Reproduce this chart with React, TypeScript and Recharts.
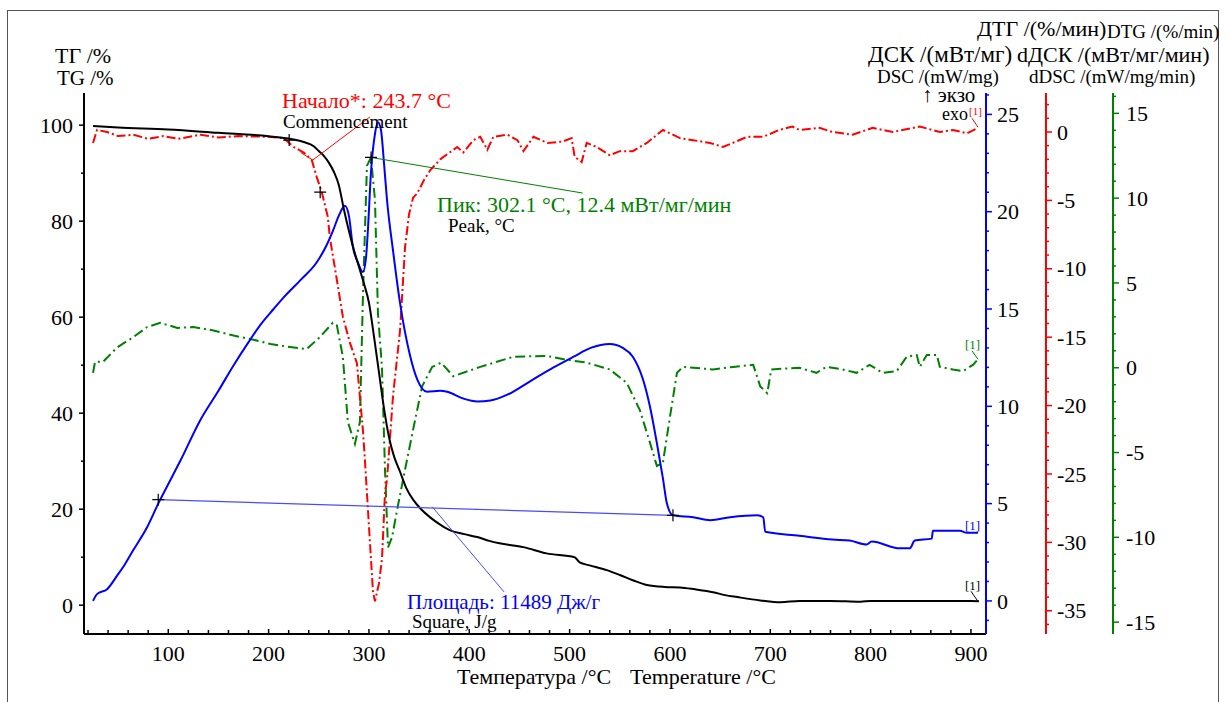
import { ComposedChart, Line, XAxis, YAxis, ReferenceLine, ReferenceDot } from "recharts";

const SERIF = "'Liberation Serif', 'Times New Roman', Times, serif";

// TG, %
const tgTemp = [25, 50, 100, 150, 200, 220, 235, 245, 250, 255, 260, 265, 270, 275, 280, 285, 290, 295, 300, 305, 310, 315, 320, 325, 331, 337, 344, 352, 361, 371, 381, 395, 408, 420, 430, 454, 477, 505, 510, 520, 537, 550, 563, 577, 595, 610, 625, 643, 655, 667, 690, 710, 729, 760, 790, 800, 850, 900, 908];
const tgValue = [99.8, 99.5, 99.1, 98.4, 97.7, 97.2, 96.5, 95.6, 94.6, 93.6, 92.2, 90.3, 87.5, 82.5, 78, 74, 70.5, 67, 63, 56, 48.5, 41, 35, 31, 27.8, 24.5, 22, 20, 18.3, 16.8, 15.6, 14.8, 14.2, 13.4, 12.9, 12.1, 10.8, 10.0, 8.9, 8.3, 7.3, 6.3, 5.2, 4.2, 3.8, 3.7, 3.3, 2.7, 2.1, 1.7, 1.0, 0.6, 0.9, 0.9, 0.7, 0.9, 0.9, 0.9, 0.8];

// DSC, mW/mg
const dscTemp = [25, 29, 39, 49, 57, 65, 79, 90, 102, 112, 132, 150, 165, 180, 192, 205, 215, 232, 248, 258, 264, 270, 276, 280, 284, 289, 294, 297, 299, 302, 306, 309, 312, 315, 318, 324, 331, 341, 348, 358, 371, 378, 394, 408, 421, 438, 461, 484, 504, 521, 540, 553, 563, 573, 580, 587, 593, 597, 603, 623, 640, 660, 687, 693, 695, 729, 762, 779, 796, 801, 829, 839, 844, 861, 862, 889, 896, 907];
const dscValue = [0, 0.35, 0.6, 1.3, 1.9, 2.6, 3.8, 5.0, 6.2, 7.2, 9.3, 10.8, 12.1, 13.3, 14.2, 15.0, 15.6, 16.5, 17.4, 18.3, 19.0, 19.8, 20.3, 19.8, 18.2, 17.4, 16.9, 17.6, 19.1, 22.0, 24.0, 24.6, 24.2, 22.5, 20.6, 18.0, 15.3, 12.6, 11.4, 10.75, 10.8, 10.75, 10.4, 10.25, 10.3, 10.6, 11.3, 12.0, 12.55, 13.0, 13.2, 13.0, 12.55, 11.4, 10.0, 8.1, 6.3, 5.0, 4.4, 4.3, 4.15, 4.3, 4.4, 4.3, 3.55, 3.35, 3.15, 3.1, 2.9, 3.05, 2.7, 2.7, 3.1, 3.2, 3.6, 3.6, 3.5, 3.5];

// DTG, %/min
const dtgTemp = [25, 29, 39, 50, 65, 80, 95, 110, 132, 150, 170, 199, 215, 225, 235, 243, 248, 253, 259, 261, 268, 274, 281, 288, 294, 296, 299, 304, 306, 310, 313, 316, 318, 324, 331, 336, 340, 344, 348, 355, 361, 371, 388, 394, 404, 411, 418, 424, 438, 448, 454, 464, 478, 493, 502, 505, 512, 517, 527, 540, 550, 563, 577, 593, 610, 623, 640, 653, 677, 693, 709, 722, 729, 749, 762, 782, 802, 822, 849, 869, 882, 896, 907];
const dtgValue = [-0.8, 0.15, 0, -0.3, -0.2, -0.5, -0.3, -0.5, -0.2, -0.4, -0.3, -0.35, -0.45, -1.1, -1.5, -2.05, -3.3, -4.4, -6.2, -7.7, -10.8, -13.5, -15.4, -16.9, -21.8, -24, -27.6, -33.6, -34.3, -33, -31.2, -26.4, -25.4, -19.3, -14.5, -8.4, -6, -4.8, -4.5, -3.5, -2.8, -2.0, -1.1, -1.5, -0.6, -0.35, -1.3, -0.35, -0.2, -0.6, -1.4, -0.35, -0.8, -0.7, -0.45, -1.8, -2.2, -0.8, -1.1, -1.7, -1.4, -1.4, -0.8, 0.15, -0.45, -0.6, -0.8, -1.1, -0.35, -0.35, 0.15, 0.4, 0.15, 0.3, 0, -0.2, 0.3, 0, 0.4, 0, 0.15, -0.1, 0.3];

// dDSC, mW/mg/min
const ddscTemp = [25, 27, 35, 49, 65, 79, 92, 109, 125, 145, 165, 185, 202, 218, 238, 251, 264, 268, 274, 279, 286, 291, 294, 298, 302, 306, 309, 313, 316, 319, 323, 328, 336, 344, 353, 363, 372, 384, 411, 444, 477, 497, 517, 540, 557, 570, 580, 587, 593, 600, 607, 613, 643, 663, 683, 690, 697, 701, 729, 746, 756, 772, 786, 799, 812, 826, 836, 846, 849, 856, 866, 869, 882, 892, 902, 907];
const ddscValue = [-0.3, 0.35, 0.35, 1.2, 1.8, 2.4, 2.65, 2.35, 2.4, 2.2, 1.9, 1.65, 1.4, 1.25, 1.1, 1.8, 2.65, 2.5, 0.65, -3.2, -4.5, -3.2, 4.2, 11.9, 12.4, 9.9, 3.2, 0, -6, -10.6, -10.0, -8.4, -6.0, -3.65, -1.1, 0.05, 0.3, -0.5, 0.05, 0.65, 0.7, 0.47, 0.3, -0.1, -0.9, -2.5, -4.4, -5.8, -5.6, -2.9, -0.3, 0.05, -0.1, 0.05, 0.17, -1.1, -1.5, -0.1, 0, -0.3, 0.05, -0.1, -0.3, 0.17, -0.3, -0.2, 0.65, 0.75, 0.05, 0.75, 0.75, 0.05, -0.1, -0.2, 0.17, 0.5];

// tick marks (labelled ones are listed here)
const tempMajor = [100, 200, 300, 400, 500, 600, 700, 800, 900];
const tgMajor = [0, 20, 40, 60, 80, 100];
const dscMajor = [0, 5, 10, 15, 20, 25];
const dtgMajor = [-35, -30, -25, -20, -15, -10, -5, 0];
const ddscMajor = [-15, -10, -5, 0, 5, 10, 15];

const steps = (from: number, to: number, step: number) => {
  const out: number[] = [];
  for (let v = from; v <= to + 1e-9; v += step) out.push(Math.round(v * 100) / 100);
  return out;
};

const zip = (t: number[], v: number[]) => t.map((x, i) => ({ t: x, v: v[i] }));
const tgData = zip(tgTemp, tgValue);
const dscData = zip(dscTemp, dscValue);
const dtgData = zip(dtgTemp, dtgValue);
const ddscData = zip(ddscTemp, ddscValue);

const RED = "#ff0000";
const BLUE = "#0000ff";
const GREEN = "#008000";

// right axes are laid out by id order, so the ids carry a prefix
const DSC_ID = "r1_dsc";
const DTG_ID = "r2_dtg";
const DDSC_ID = "r3_ddsc";

function makeLeftTick(majors: number[]) {
  return (props: any) => {
    const { x, y, payload } = props;
    const major = majors.includes(payload.value);
    return (
      <g>
        <line x1={x} x2={x - (major ? 5 : 3)} y1={y} y2={y} stroke="#000" strokeWidth={1.5} />
        {major && (
          <text x={x - 11} y={y} dy="0.35em" textAnchor="end" fontSize={22} fontFamily={SERIF} fill="#000">
            {payload.value}
          </text>
        )}
      </g>
    );
  };
}

function makeRightTick(color: string, majors: number[], gap: number) {
  return (props: any) => {
    const { x, y, payload } = props;
    const major = majors.includes(payload.value);
    return (
      <g>
        <line x1={x} x2={x + (major ? 6 : 3)} y1={y} y2={y} stroke={color} strokeWidth={1.5} />
        {major && (
          <text x={x + gap} y={y} dy="0.35em" textAnchor="start" fontSize={22} fontFamily={SERIF} fill="#000">
            {payload.value}
          </text>
        )}
      </g>
    );
  };
}

const BottomTick = (props: any) => {
  const { x, y, payload } = props;
  const major = tempMajor.includes(payload.value);
  return (
    <g>
      <line x1={x} x2={x} y1={y} y2={y - (major ? 5 : 4)} stroke="#000" strokeWidth={1.5} />
      {major && (
        <text x={x} y={y + 27} textAnchor="middle" fontSize={22} fontFamily={SERIF} fill="#000">
          {payload.value}
        </text>
      )}
    </g>
  );
};

const Plus = (props: any) => {
  const { cx, cy } = props;
  return <path d={`M${cx - 6},${cy}h12M${cx},${cy - 6}v12`} stroke="#000" strokeWidth={1.2} fill="none" />;
};

const T = (props: any) => {
  const { x, y, size, color, children } = props;
  return (
    <text x={x} y={y} fontSize={size} fill={color || "#000"} fontFamily={SERIF}>
      {children}
    </text>
  );
};

export default function App() {
  return (
    <div style={{ position: "absolute", left: 0, top: 0, width: 1227, height: 702, background: "#fff", overflow: "hidden", fontFamily: SERIF }}>
      <div style={{ position: "absolute", left: 7, top: 10, width: 1210, height: 720, border: "1.5px solid #555" }} />
      <ComposedChart width={1227} height={702} margin={{ top: 93, right: 54, bottom: 38, left: 24 }}>
        <XAxis
          type="number"
          dataKey="t"
          domain={[16, 915]}
          allowDataOverflow
          ticks={steps(20, 900, 20)}
          interval={0}
          tick={<BottomTick />}
          tickLine={false}
          tickSize={0}
          tickMargin={0}
          height={30}
          axisLine={{ stroke: "#000", strokeWidth: 2 }}
        />
        <YAxis
          yAxisId="tg"
          orientation="left"
          width={60}
          domain={[-6, 106.7]}
          allowDataOverflow
          ticks={steps(0, 100, 10)}
          interval={0}
          tick={makeLeftTick(tgMajor)}
          tickLine={false}
          tickSize={0}
          tickMargin={0}
          axisLine={{ stroke: "#000", strokeWidth: 2 }}
        />
        <YAxis
          yAxisId={DSC_ID}
          orientation="right"
          width={60}
          domain={[-1.7, 26.1]}
          allowDataOverflow
          ticks={steps(-1, 26, 1)}
          interval={0}
          tick={makeRightTick(BLUE, dscMajor, 11)}
          tickLine={false}
          tickSize={0}
          tickMargin={0}
          axisLine={{ stroke: BLUE, strokeWidth: 2 }}
        />
        <YAxis
          yAxisId={DTG_ID}
          orientation="right"
          width={67}
          domain={[-36.7, 2.85]}
          allowDataOverflow
          ticks={steps(-36, 2, 1)}
          interval={0}
          tick={makeRightTick(RED, dtgMajor, 11)}
          tickLine={false}
          tickSize={0}
          tickMargin={0}
          axisLine={{ stroke: RED, strokeWidth: 2 }}
        />
        <YAxis
          yAxisId={DDSC_ID}
          orientation="right"
          width={60}
          domain={[-15.7, 16.2]}
          allowDataOverflow
          ticks={steps(-15, 16, 1)}
          interval={0}
          tick={makeRightTick(GREEN, ddscMajor, 13)}
          tickLine={false}
          tickSize={0}
          tickMargin={0}
          axisLine={{ stroke: GREEN, strokeWidth: 2 }}
        />

        <Line yAxisId={DDSC_ID} data={ddscData} dataKey="v" type="linear" stroke={GREEN} strokeWidth={2} strokeDasharray="10 4 2 4" dot={false} isAnimationActive={false} />
        <Line yAxisId={DTG_ID} data={dtgData} dataKey="v" type="linear" stroke={RED} strokeWidth={2} strokeDasharray="9 3 2 3" dot={false} isAnimationActive={false} />
        <Line yAxisId={DSC_ID} data={dscData} dataKey="v" type="monotone" stroke={BLUE} strokeWidth={2} dot={false} isAnimationActive={false} />
        <Line yAxisId="tg" data={tgData} dataKey="v" type="monotone" stroke="#000" strokeWidth={2} dot={false} isAnimationActive={false} />

        {/* onset construction */}
        <ReferenceLine yAxisId={DTG_ID} segment={[{ x: 232, y: -1.5 }, { x: 244, y: -2.05 }]} stroke={RED} strokeWidth={1} ifOverflow="visible" />
        <ReferenceLine yAxisId={DTG_ID} segment={[{ x: 244, y: -2.05 }, { x: 301, y: 1.1 }]} stroke={RED} strokeWidth={1} ifOverflow="visible" />
        {/* peak leader */}
        <ReferenceLine yAxisId={DDSC_ID} segment={[{ x: 302.1, y: 12.4 }, { x: 513, y: 10.3 }]} stroke={GREEN} strokeWidth={1} ifOverflow="visible" />
        {/* area baseline and leader */}
        <ReferenceLine yAxisId={DSC_ID} segment={[{ x: 90, y: 5.2 }, { x: 603, y: 4.4 }]} stroke="#4a4aff" strokeWidth={1.2} ifOverflow="visible" />
        <ReferenceLine yAxisId={DSC_ID} segment={[{ x: 363, y: 4.84 }, { x: 434.7, y: 0.46 }]} stroke="#4a4aff" strokeWidth={1} ifOverflow="visible" />
        {/* [1] leaders */}
        <ReferenceLine yAxisId={DDSC_ID} segment={[{ x: 901, y: 1.0 }, { x: 907, y: 0.5 }]} stroke={GREEN} strokeWidth={1} ifOverflow="visible" />
        <ReferenceLine yAxisId="tg" segment={[{ x: 900, y: 2.9 }, { x: 907, y: 0.8 }]} stroke="#000" strokeWidth={1} ifOverflow="visible" />
        <ReferenceLine yAxisId={DTG_ID} segment={[{ x: 901, y: 1.0 }, { x: 907, y: 0.35 }]} stroke={RED} strokeWidth={1} ifOverflow="visible" />

        <ReferenceDot yAxisId="tg" x={220.5} y={96.9} r={6} shape={<Plus />} ifOverflow="visible" />
        <ReferenceDot yAxisId={DTG_ID} x={251.4} y={-4.4} r={6} shape={<Plus />} ifOverflow="visible" />
        <ReferenceDot yAxisId={DDSC_ID} x={302.1} y={12.4} r={6} shape={<Plus />} ifOverflow="visible" />
        <ReferenceDot yAxisId={DSC_ID} x={90} y={5.2} r={6} shape={<Plus />} ifOverflow="visible" />
        <ReferenceDot yAxisId={DSC_ID} x={603} y={4.4} r={6} shape={<Plus />} ifOverflow="visible" />
      </ComposedChart>

      <svg width={1227} height={702} style={{ position: "absolute", left: 0, top: 0, pointerEvents: "none" }}>
        <T x={55} y={63} size={22}>ТГ /%</T>
        <T x={57} y={85} size={21}>TG /%</T>

        <T x={977} y={36} size={22}>ДТГ /(%/мин)</T>
        <T x={1107} y={38} size={19}>DTG /(%/min)</T>
        <T x={868} y={62} size={23}>ДСК /(мВт/мг)</T>
        <T x={1017} y={62} size={22}>dДСК /(мВт/мг/мин)</T>
        <T x={877} y={83} size={19}>DSC /(mW/mg)</T>
        <T x={1029} y={83} size={19}>dDSC /(mW/mg/min)</T>
        <T x={922} y={102} size={21}>↑ экзо</T>
        <T x={942} y={120} size={18}>exo</T>
        <T x={969} y={115} size={11} color={RED}>[1]</T>

        <T x={282} y={108} size={22} color={RED}>Начало*: 243.7 °C</T>
        <T x={283} y={128} size={19}>Commencement</T>
        <T x={437} y={212} size={22} color={GREEN}>Пик: 302.1 °C, 12.4 мВт/мг/мин</T>
        <T x={448} y={232} size={19}>Peak, °C</T>
        <T x={407} y={609} size={21} color={BLUE}>Площадь: 11489 Дж/г</T>
        <T x={412} y={628} size={19}>Square, J/g</T>

        <T x={965} y={349} size={13} color={GREEN}>[1]</T>
        <T x={965} y={530} size={13} color={BLUE}>[1]</T>
        <T x={965} y={590} size={13}>[1]</T>

        <T x={457} y={684} size={22}>Температура /°C</T>
        <T x={630} y={684} size={22}>Temperature /°C</T>
      </svg>
    </div>
  );
}
